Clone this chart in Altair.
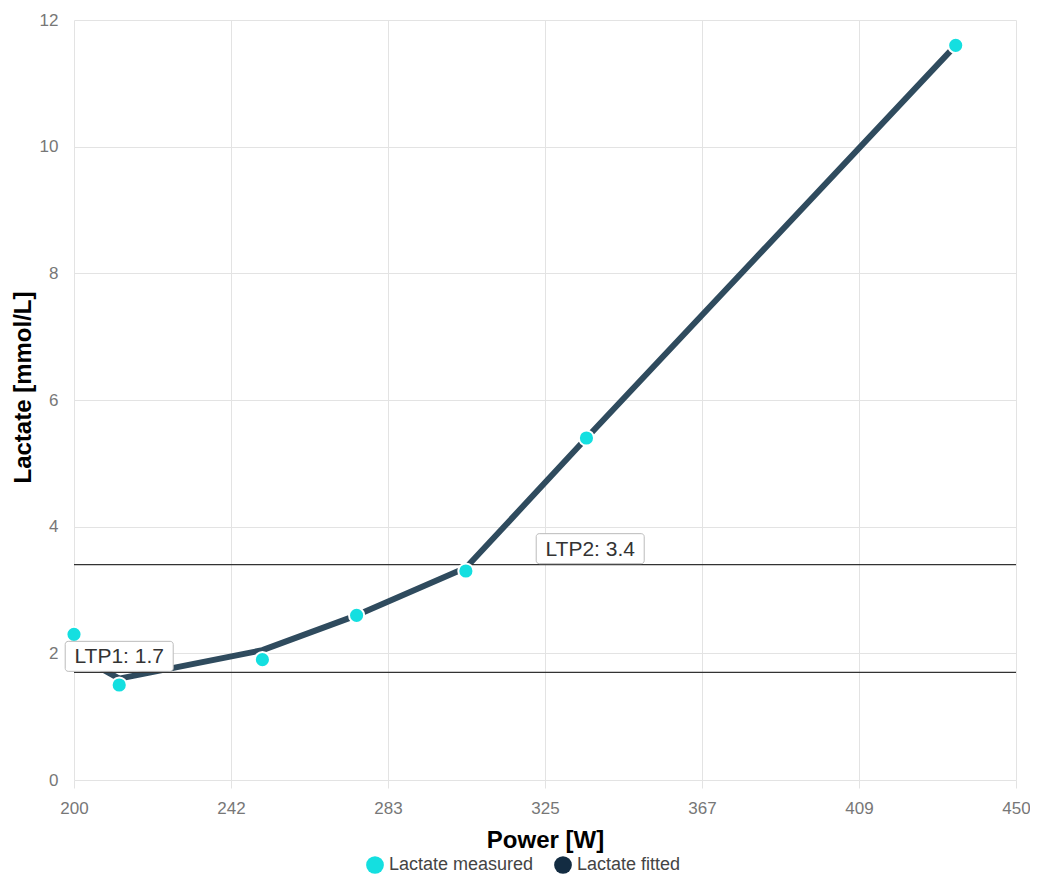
import altair as alt
import pandas as pd

# ---- data ----
power = [200, 212, 250, 275, 304, 336, 434]
lactate_measured = [2.3, 1.5, 1.9, 2.6, 3.3, 5.4, 11.6]
lactate_fitted = [2.0, 1.6, 2.05, 2.6, 3.35, 5.4, 11.6]

ltp_names = ["LTP1", "LTP2"]
ltp_values = [1.7, 3.4]
ltp_label_power = [212, 337]

x_tick_values = [200, 241.667, 283.333, 325, 366.667, 408.333, 450]
x_tick_labels = ["200", "242", "283", "325", "367", "409", "450"]
y_tick_values = [0, 2, 4, 6, 8, 10, 12]

series_names = ["Lactate measured", "Lactate fitted"]
series_colors = ["#14dfe0", "#132c42"]
line_color = "#2f4b5e"

FONT = "Liberation Sans"

fitted_df = pd.DataFrame({"power": power, "lactate": lactate_fitted})
points_df = pd.concat([
    pd.DataFrame({"power": power, "lactate": lactate_measured, "series": series_names[0]}),
    pd.DataFrame({"power": power, "lactate": lactate_fitted, "series": series_names[1]}),
])
ltp_df = pd.DataFrame({
    "name": ltp_names,
    "value": ltp_values,
    "lpower": ltp_label_power,
    "label": [f"{n}: {v}" for n, v in zip(ltp_names, ltp_values)],
})

label_arr = "[" + ",".join(f"'{s}'" for s in x_tick_labels) + "]"

x_scale = alt.Scale(domain=[200, 450], nice=False, zero=False)
y_scale = alt.Scale(domain=[0, 12], nice=False)

x_axis = alt.Axis(
    title="Power [W]",
    values=x_tick_values,
    labelExpr=f"{label_arr}[round((datum.value-200)/(250/6))]",
    labelFlush=False,
    grid=True, gridColor="#e3e3e3", domain=False,
    ticks=True, tickColor="#e3e3e3", tickSize=8,
    labelFont=FONT, labelFontSize=17, labelColor="#777777", labelPadding=12,
    titleFont=FONT, titleFontSize=24, titleFontWeight="bold", titleColor="#000000",
    titleBaseline="alphabetic", titleY=67,
)
y_axis = alt.Axis(
    title="Lactate [mmol/L]",
    values=y_tick_values,
    format="d",
    labelFlush=False,
    grid=True, gridColor="#e3e3e3", domain=False, ticks=False,
    labelFont=FONT, labelFontSize=17, labelColor="#777777", labelPadding=16,
    titleFont=FONT, titleFontSize=24, titleFontWeight="bold", titleColor="#000000",
    titleBaseline="alphabetic", titleX=-44, titleY=367, titleAngle=-90,
)

line = alt.Chart(fitted_df).mark_line(
    color=line_color, strokeWidth=6, strokeCap="round", strokeJoin="round"
).encode(
    x=alt.X("power:Q", scale=x_scale, axis=x_axis),
    y=alt.Y("lactate:Q", scale=y_scale, axis=y_axis),
)

rules = alt.Chart(ltp_df).mark_rule(color="#333333", strokeWidth=1.2).encode(
    y=alt.Y("value:Q", scale=y_scale),
)

points = alt.Chart(points_df).mark_point(
    filled=True, opacity=1, stroke="white", strokeWidth=2
).encode(
    x=alt.X("power:Q", scale=x_scale),
    y=alt.Y("lactate:Q", scale=y_scale),
    color=alt.Color(
        "series:N",
        scale=alt.Scale(domain=series_names, range=series_colors),
        legend=alt.Legend(
            title=None, orient="none", direction="horizontal",
            legendX=292, legendY=836,
            symbolType="circle", symbolSize=314, symbolStrokeWidth=0,
            symbolOpacity=1,
            labelFont=FONT, labelFontSize=18, labelColor="#444444",
            labelOffset=5, columnPadding=20,
        ),
    ),
    size=alt.condition(alt.datum.series == series_names[0], alt.value(230), alt.value(0)),
)

boxes = alt.Chart(ltp_df).mark_rect(
    width=108, height=30, fill="white", stroke="#bbbbbb", strokeWidth=1,
    cornerRadius=3, yOffset=-16,
).encode(
    x=alt.X("lpower:Q", scale=x_scale),
    y=alt.Y("value:Q", scale=y_scale),
)

texts = alt.Chart(ltp_df).mark_text(
    font=FONT, fontSize=21, color="#333333", baseline="middle", align="center", dy=-15,
).encode(
    x=alt.X("lpower:Q", scale=x_scale),
    y=alt.Y("value:Q", scale=y_scale),
    text="label:N",
)

chart = alt.layer(line, rules, points, boxes, texts).properties(
    width=942, height=760,
    autosize=alt.AutoSizeParams(type="none"),
    padding={"left": 66, "top": 12, "right": 14, "bottom": 95},
).configure_view(stroke=None)

chart.save("out.html", embed_options={"renderer": "svg", "actions": False})
